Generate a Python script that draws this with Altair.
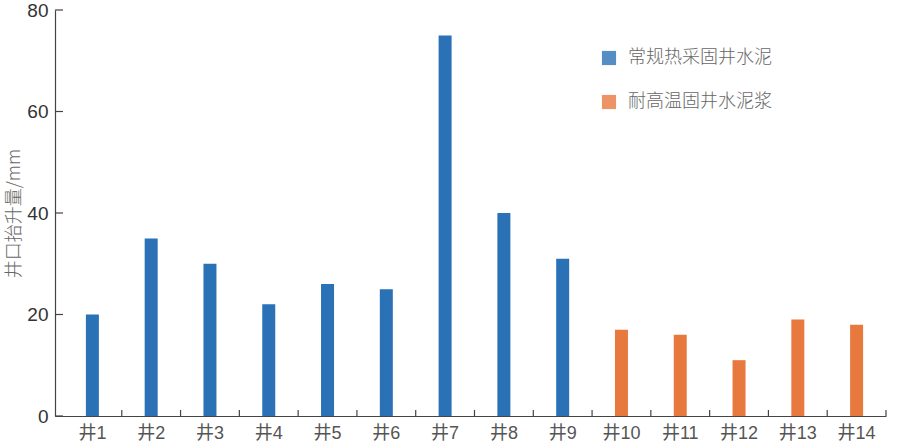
import altair as alt
import pandas as pd

wells = ["井1", "井2", "井3", "井4", "井5", "井6", "井7", "井8", "井9", "井10", "井11", "井12", "井13", "井14"]
lift = [20, 35, 30, 22, 26, 25, 75, 40, 31, 17, 16, 11, 19, 18]
groups = ["常规热采固井水泥"] * 9 + ["耐高温固井水泥浆"] * 5
group_names = ["常规热采固井水泥", "耐高温固井水泥浆"]
group_colors = ["#2b71b6", "#e7793f"]
y_ticks = [0, 20, 40, 60, 80]

df = pd.DataFrame({"well": wells, "lift": lift, "group": groups})
ticks_df = pd.DataFrame({"v": y_ticks})

FONT = "Liberation Sans, Noto Sans CJK SC, sans-serif"
CJK = "Noto Sans CJK SC, sans-serif"
W, H = 831, 406

xscale = alt.Scale(domain=wells, paddingInner=0, paddingOuter=0.068, align=1)
yscale = alt.Scale(domain=[0, 80], nice=False)

bars = alt.Chart(df).mark_bar(width=13).encode(
    x=alt.X("well:N", scale=xscale, sort=wells, title=None,
            axis=alt.Axis(labelAngle=0, ticks=False, labelFontSize=18, labelColor="#555",
                          labelPadding=8, domainColor="#444", domainWidth=1.2, labelFont=FONT)),
    y=alt.Y("lift:Q", scale=yscale, title="井口抬升量/mm",
            axis=alt.Axis(values=y_ticks, ticks=False, grid=False, labelFontSize=19,
                          labelColor="#333", labelPadding=7, domainColor="#444", domainWidth=1.2,
                          labelFont=FONT, titleFont=CJK, titleFontSize=18, titleColor="#666",
                          titleFontWeight=300, titleAngle=-90, titleX=-41, titleY=203,
                          titleBaseline="middle", titleAlign="center")),
    color=alt.Color("group:N", scale=alt.Scale(domain=group_names, range=group_colors),
                    legend=alt.Legend(title=None, orient="none", legendX=545, legendY=39,
                                      symbolType="square", symbolSize=200, symbolOpacity=0.8,
                                      symbolStrokeWidth=0, labelFontSize=18, labelColor="#666",
                                      labelFont=CJK, labelFontWeight=300,
                                      rowPadding=26, labelOffset=10)),
)

xticks = alt.Chart(df).mark_rule(color="#444", strokeWidth=1.2).encode(
    x=alt.X("well:N", scale=xscale, sort=wells, bandPosition=1),
    y=alt.value(H),
    y2=alt.value(H - 6),
)

yticks = alt.Chart(ticks_df).mark_rule(color="#444", strokeWidth=1.2).encode(
    y=alt.Y("v:Q", scale=yscale),
    x=alt.value(0),
    x2=alt.value(8),
)

chart = alt.layer(bars, xticks, yticks).properties(
    width=W, height=H,
    autosize=alt.AutoSizeParams(type="none"),
    padding={"left": 55, "top": 10, "right": 14, "bottom": 32},
    background="white",
).configure_view(strokeWidth=0, stroke="transparent")

chart.save("out.html", embed_options={"renderer": "svg", "actions": False})
